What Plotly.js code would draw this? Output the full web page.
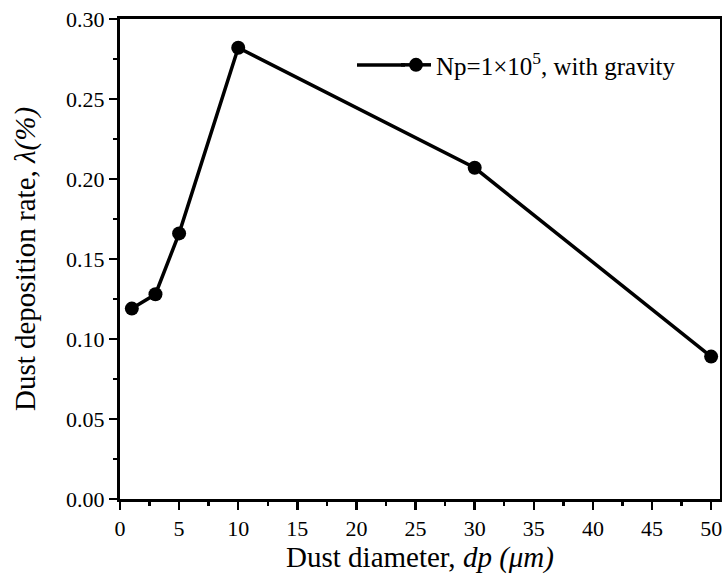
<!DOCTYPE html>
<html>
<head>
<meta charset="utf-8">
<script src="https://cdn.plot.ly/plotly-3.0.1.min.js"></script>
<style>html,body{margin:0;padding:0;background:#fff;}#chart{width:722px;height:580px;}</style>
</head>
<body>
<div id="chart"></div>
<script>
const diameters = [1, 3, 5, 10, 30, 50];
const depositionRate = [0.119, 0.128, 0.166, 0.282, 0.207, 0.089];
const seriesName = 'Np=1×10<sup>5</sup>, with gravity';

const font = 'Liberation Serif, Times New Roman, serif';
const data = [{
  x: diameters, y: depositionRate, name: seriesName,
  type: 'scatter', mode: 'lines+markers',
  line: {color: '#000', width: 3.5},
  marker: {color: '#000', size: 14},
  cliponaxis: false
}];
const legendY = 0.904;
const layout = {
  width: 722, height: 580,
  margin: {l: 120, r: 2, t: 19, b: 81},
  paper_bgcolor: '#fff', plot_bgcolor: '#fff',
  font: {family: font, color: '#000', size: 22},
  showlegend: true,
  legend: {x: 0.46, y: legendY, xanchor: 'left', yanchor: 'middle', bgcolor: 'rgba(0,0,0,0)', font: {size: 25, family: font}},
  shapes: [{type: 'line', xref: 'paper', yref: 'paper', x0: 0.395, x1: 0.475, y0: legendY, y1: legendY, line: {color: '#000', width: 3.5}}],
  xaxis: {
    range: [0, 50.75], tickmode: 'linear', tick0: 0, dtick: 5,
    ticks: 'outside', ticklen: 8, tickwidth: 2.5, tickcolor: '#000',
    showline: true, linewidth: 3, linecolor: '#000', mirror: true,
    showgrid: false, zeroline: false, ticklabeloverflow: 'allow',
    minor: {dtick: 2.5, ticks: 'outside', ticklen: 4, tickwidth: 2.5, tickcolor: '#000', showgrid: false},
    tickfont: {size: 22, family: font},
    title: {text: 'Dust diameter, <i>dp (μm)</i>', font: {size: 29, family: font}, standoff: 7}
  },
  yaxis: {
    range: [0, 0.30], tickmode: 'linear', tick0: 0, dtick: 0.05, tickformat: '.2f',
    ticks: 'outside', ticklen: 8, tickwidth: 2.5, tickcolor: '#000',
    showline: true, linewidth: 3, linecolor: '#000', mirror: true,
    showgrid: false, zeroline: false,
    minor: {dtick: 0.025, ticks: 'outside', ticklen: 4, tickwidth: 2.5, tickcolor: '#000', showgrid: false},
    tickfont: {size: 22, family: font},
    title: {text: 'Dust deposition rate, <i>λ(%)</i>', font: {size: 29, family: font}, standoff: 22}
  }
};
Plotly.newPlot('chart', data, layout, {displayModeBar: false, staticPlot: true});
</script>
</body>
</html>
